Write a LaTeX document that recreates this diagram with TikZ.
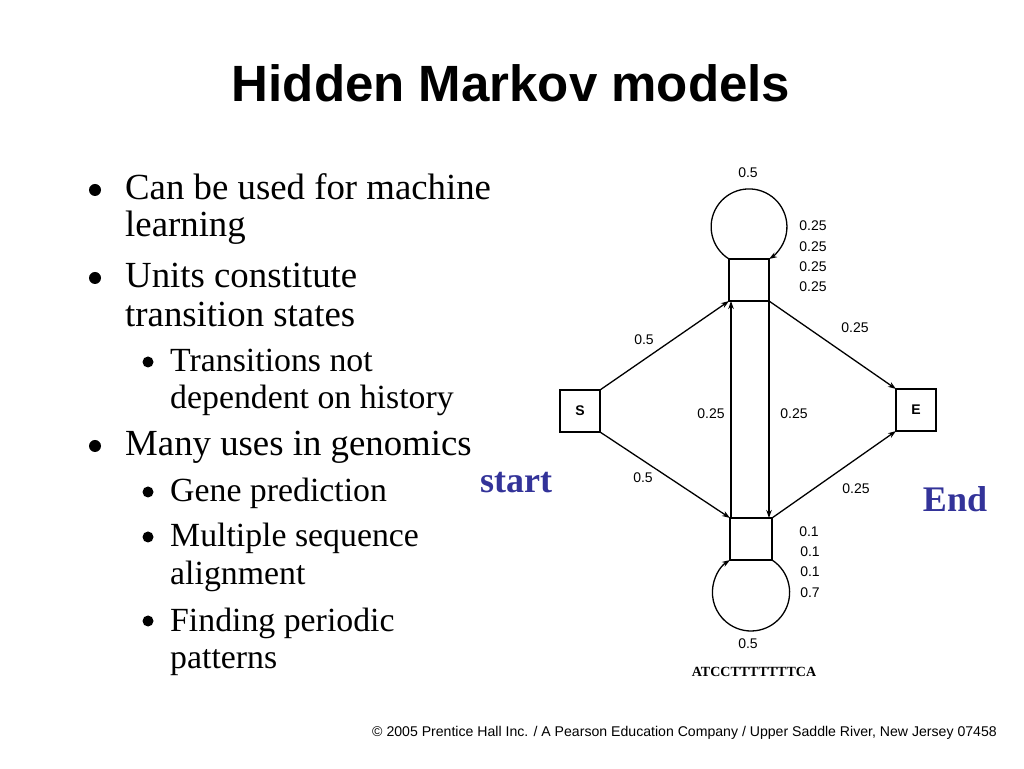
\documentclass[tikz,border=0pt]{standalone}
\usepackage{fontspec}
\setmainfont{Liberation Serif}
\newfontfamily\arialfont{Liberation Sans}
\usetikzlibrary{arrows.meta}
\definecolor{slideblue}{RGB}{51,51,153}

\begin{document}
\begin{tikzpicture}[x=1pt, y=1pt,
    statebox/.style={draw, line width=2.6pt, minimum width=40pt, minimum height=42pt,
      inner sep=0pt, outer sep=0pt, font=\arialfont\bfseries\fontsize{14}{16}\selectfont},
    edge/.style={line width=1.3pt, -{Stealth[length=8pt,width=5.5pt]}},
    prob/.style={font=\arialfont\fontsize{14}{16}\selectfont, inner sep=0pt},
    item/.style={anchor=base west, inner sep=0pt, font=\fontsize{36.8}{40}\selectfont},
    subitem/.style={anchor=base west, inner sep=0pt, font=\fontsize{33.8}{37}\selectfont},
    dot/.style={circle, fill, inner sep=0pt, minimum size=12pt},
    subdot/.style={circle, fill, inner sep=0pt, minimum size=11pt},
    tag/.style={text=slideblue, font=\bfseries\fontsize{36}{40}\selectfont, anchor=base, inner sep=0pt}]

    % Slide frame
    \useasboundingbox (0,0) rectangle (1024,768);

    % Title
    \node[font=\arialfont\bfseries\fontsize{51}{60}\selectfont, anchor=base] (title) at (511,666) {Hidden Markov models};

    % Bullet list
    \node[dot] (d1) at (95,578) {};
    \node[item] (l1) at (125,568) {Can be used for machine};
    \node[item] (l2) at (125,531) {learning};
    \node[dot] (d2) at (95,490) {};
    \node[item] (l3) at (125,480) {Units constitute};
    \node[item] (l4) at (125,441) {transition states};
    \node[subdot] (d3) at (148,406) {};
    \node[subitem] (l5) at (170,396) {Transitions not};
    \node[subitem] (l6) at (170,359) {dependent on history};
    \node[dot] (d4) at (95,322) {};
    \node[item] (l7) at (125,312) {Many uses in genomics};
    \node[subdot] (d5) at (148,276) {};
    \node[subitem] (l8) at (170,266) {Gene prediction};
    \node[subdot] (d6) at (148,231) {};
    \node[subitem] (l9) at (170,221) {Multiple sequence};
    \node[subitem] (l10) at (170,183) {alignment};
    \node[subdot] (d7) at (148,147) {};
    \node[subitem] (l11) at (170,137) {Finding periodic};
    \node[subitem] (l12) at (170,100) {patterns};

    % States
    \node[statebox] (S) at (580,357) {S};
    \node[statebox] (E) at (916,358) {E};
    \node[statebox] (up) at (749,488) {};
    \node[statebox, minimum width=42pt] (down) at (751,229) {};

    % Self loops
    \draw[edge] (up.north west) arc[start angle=238.1, end angle=-58.1, radius=37.9];
    \draw[edge] (down.south east) arc[start angle=57.05, end angle=-237.05, radius=38.6];

    % Transitions
    \draw[edge] (S.north east) -- (up.south west);
    \draw[edge] (up.south east) -- (E.north west);
    \draw[edge] (S.south east) -- (down.north west);
    \draw[edge] (down.north east) -- (E.south west);
    \draw[edge] ([xshift=1pt]down.north west) -- ([xshift=1pt]down.north west |- up.south);
    \draw[edge] (up.south east) -- (up.south east |- down.north);

    % Probabilities
    \node[prob] (p1) at (748,595) {0.5};
    \node[prob] (p2) at (813,542) {0.25};
    \node[prob] (p3) at (813,521) {0.25};
    \node[prob] (p4) at (813,501) {0.25};
    \node[prob] (p5) at (813,481) {0.25};
    \node[prob] (p6) at (644,428) {0.5};
    \node[prob] (p7) at (855,440) {0.25};
    \node[prob] (p8) at (711,354) {0.25};
    \node[prob] (p9) at (794,354) {0.25};
    \node[prob] (p10) at (643,290) {0.5};
    \node[prob] (p11) at (856,279) {0.25};
    \node[prob] (p12) at (809,236) {0.1};
    \node[prob] (p13) at (810,216) {0.1};
    \node[prob] (p14) at (810,196) {0.1};
    \node[prob] (p15) at (810,175) {0.7};
    \node[prob] (p16) at (748,124) {0.5};
    \node[font=\bfseries\fontsize{14}{16}\selectfont, anchor=base, inner sep=0pt] (seq) at (754,92) {ATCCTTTTTTTCA};

    % Start and end tags
    \node[tag] (start) at (516,275) {start};
    \node[tag] (end) at (955,256) {End};

    % Credit line
    \node[font=\arialfont\fontsize{14.1}{16}\selectfont, anchor=base east, inner sep=0pt] (credit) at (997,32)
      {© 2005 Prentice Hall Inc. / A Pearson Education Company / Upper Saddle River, New Jersey 07458};

\end{tikzpicture}
\end{document}
